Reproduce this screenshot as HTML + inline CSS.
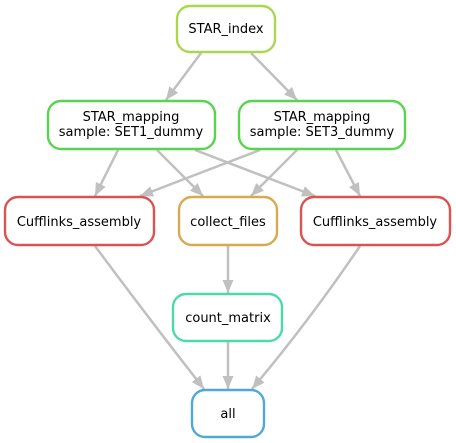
<!DOCTYPE html>
<html><head><meta charset="utf-8"><style>
html,body{margin:0;padding:0;background:#fff;}
svg{display:block;}
text{font-family:"DejaVu Sans","Liberation Sans",sans-serif;font-size:13px;fill:#000;text-anchor:middle;}
</style></head><body>
<svg width="456" height="443" viewBox="0 0 456 443" xmlns="http://www.w3.org/2000/svg">
<defs>
<marker id="a" markerWidth="13" markerHeight="11" refX="13" refY="5.5" orient="auto" markerUnits="userSpaceOnUse">
<path d="M0,0 L13,5.5 L0,11 Z" fill="#c0c0c0"/>
</marker>
</defs>
<g stroke="#c0c0c0" stroke-width="2.5" fill="none" marker-end="url(#a)">
<line x1="201" y1="53" x2="166" y2="100"/>
<line x1="251" y1="53" x2="297" y2="100"/>
<line x1="118" y1="150" x2="95" y2="196"/>
<line x1="157" y1="150" x2="203" y2="196"/>
<line x1="195" y1="150" x2="315" y2="196"/>
<line x1="260" y1="150" x2="140" y2="196"/>
<line x1="297" y1="150" x2="251" y2="196"/>
<line x1="336" y1="150" x2="360" y2="196"/>
<path d="M95,246 Q150,320 204,389"/>
<line x1="228" y1="246" x2="228" y2="293"/>
<line x1="228" y1="342" x2="228" y2="389"/>
<path d="M360,246 Q310,320 252,389"/>
</g>
<g stroke-width="2.4" fill="#fff">
<rect x="177" y="6" width="98" height="46" rx="13" stroke="#a8d84f"/>
<rect x="48" y="101" width="167" height="48" rx="13" stroke="#5ad44f"/>
<rect x="239" y="101" width="166" height="48" rx="13" stroke="#5ad44f"/>
<rect x="5" y="197" width="149" height="48" rx="13" stroke="#d95450"/>
<rect x="179" y="197" width="98" height="48" rx="13" stroke="#d9a84f"/>
<rect x="301" y="197" width="149" height="48" rx="13" stroke="#d95450"/>
<rect x="173" y="294" width="109" height="47" rx="13" stroke="#4fd9a8"/>
<rect x="192" y="390" width="72" height="47" rx="13" stroke="#4fa8d9"/>
</g>
<text x="226" y="33">STAR_index</text>
<text x="131" y="121">STAR_mapping</text>
<text x="131" y="136">sample: SET1_dummy</text>
<text x="322" y="121">STAR_mapping</text>
<text x="322" y="136">sample: SET3_dummy</text>
<text x="79" y="226">Cufflinks_assembly</text>
<text x="228" y="226">collect_files</text>
<text x="375" y="226">Cufflinks_assembly</text>
<text x="228" y="322">count_matrix</text>
<text x="228" y="418">all</text>
</svg>
</body></html>
